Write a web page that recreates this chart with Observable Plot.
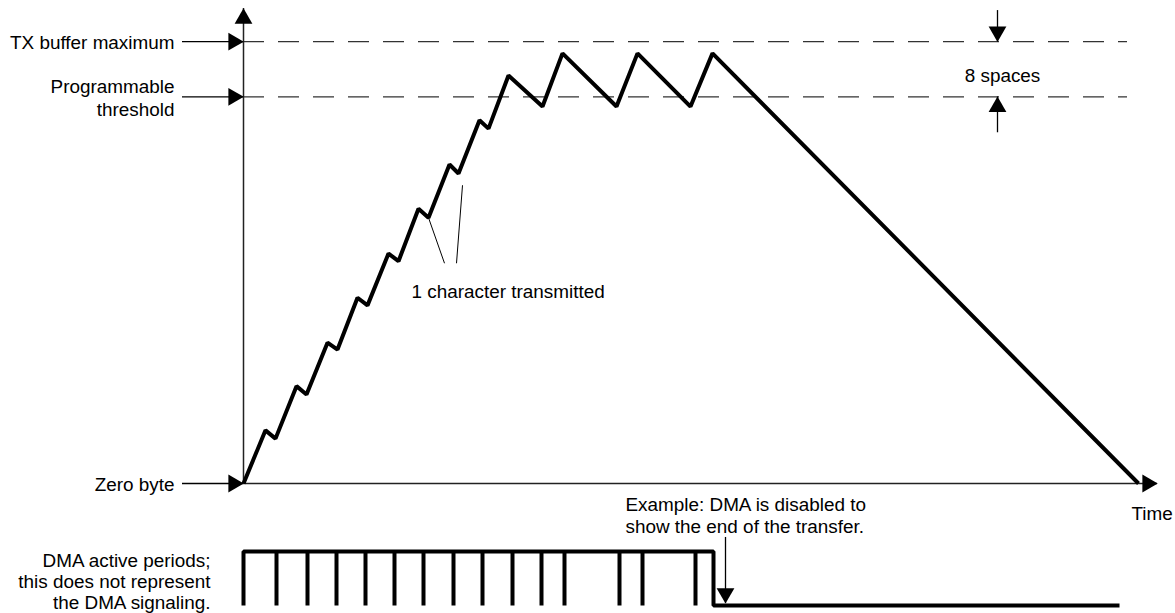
<!DOCTYPE html>
<html>
<head>
<meta charset="utf-8">
<script src="https://cdn.jsdelivr.net/npm/d3@7"></script>
<script src="https://cdn.jsdelivr.net/npm/@observablehq/plot@0.6"></script>
<style>
  html, body { margin: 0; padding: 0; background: #fff; color: #000; }
  #chart { width: 1175px; }
  #chart svg { display: block; }
</style>
</head>
<body>
<div id="chart"></div>
<script>
// ---- Data ----
// TX buffer fill level (bytes) over time (arbitrary time units)
const fifoTime  = [0, 22, 32, 53, 63, 84, 94, 114, 124, 145, 155, 175, 185, 206, 215, 236, 245, 265, 299, 319, 373, 394, 447, 469, 895];
const fifoBytes = [0, 7.7, 6.5, 14.1, 12.9, 20.4, 19.4, 26.9, 25.8, 33.3, 32.2, 39.8, 38.5, 46.2, 44.9, 52.6, 51.4, 59.1, 54.6, 62.3, 54.6, 62.3, 54.6, 62.3, 0];

// Reference levels on the vertical axis
const levelValues = [64, 56, 0];
const levelLabels = ["TX buffer maximum", "Programmable\nthreshold", "Zero byte"];
const guideLevels = [64, 56];
const guideEnd = 884;

// DMA active periods: short gaps, then disabled
const dmaDipTimes = [33, 64, 93, 122, 151, 180, 210, 239, 269, 298, 321, 376, 399, 452];
const dmaDisableTime = 470;
const dmaEndTime = 876;

// Axis extents
const timeMax = 914;
const bytesMax = 68.8;

// Annotations
const charLeaderX1 = [185, 219];
const charLeaderY1 = [38.5, 43.2];
const charLeaderX2 = [201, 213];
const charLeaderY2 = [31.9, 31.9];
const charLabel = "1 character transmitted";
const charLabelTime = 168, charLabelBytes = 27.8;

const spacesTime = 754;
const spacesLabel = "8 spaces";
const spacesShaftFrom = [68.5, 50.8];
const spacesShaftTo = [64, 56];

const exampleTime = 382;
const exampleLabel = "Example: DMA is disabled to\nshow the end of the transfer.";
const exampleArrowTime = 482;
const exampleArrowTop = 1.26, exampleArrowTip = 0.04;

const dmaLabel = "DMA active periods;\nthis does not represent\nthe DMA signaling.";
const timeLabel = "Time";

// ---- Tables built from the arrays ----
const fifo = fifoTime.map((t, i) => ({t, b: fifoBytes[i]}));
const levels = levelValues.map((v, i) => ({v, label: levelLabels[i]}));
const dma = [{t: 0, a: 0}, {t: 0, a: 1}];
for (const d of dmaDipTimes) dma.push({t: d, a: 1}, {t: d, a: 0}, {t: d, a: 1});
dma.push({t: dmaDisableTime, a: 1}, {t: dmaDisableTime, a: 0}, {t: dmaEndTime, a: 0});
const leaders = charLeaderX1.map((x1, i) => ({x1, y1: charLeaderY1[i], x2: charLeaderX2[i], y2: charLeaderY2[i]}));
const spaceShafts = spacesShaftFrom.map((f, i) => ({f, to: spacesShaftTo[i]}));

const FONT = "'Liberation Sans', Arial, Helvetica, sans-serif";
const FS = "18.9px";
const headR = 6.6;

const common = {
  width: 1175,
  marginLeft: 243,
  marginRight: 18,
  style: {fontFamily: FONT, fontSize: FS, background: "transparent", color: "#000", overflow: "visible"}
};

const bufferPlot = Plot.plot({
  ...common,
  height: 530,
  marginTop: 8,
  marginBottom: 47,
  x: {domain: [0, timeMax], axis: null},
  y: {domain: [0, bytesMax]},
  marks: [
    // level labels with leader ticks
    Plot.axisY(levelValues, {
      anchor: "left",
      tickSize: 61,
      tickPadding: 8,
      tickFormat: (d) => levelLabels[levelValues.indexOf(d)],
      label: null,
      lineHeight: 1.22,
      strokeWidth: 1.4,
      fontSize: FS
    }),
    // dashed guides
    Plot.ruleY(guideLevels, {x1: 0, x2: guideEnd, stroke: "#333", strokeWidth: 1.3, strokeDasharray: "21,14"}),
    // axes
    Plot.ruleX([0], {y1: 0, y2: bytesMax, stroke: "#222", strokeWidth: 1.5}),
    Plot.ruleY([0], {x1: 0, x2: timeMax, stroke: "#222", strokeWidth: 1.5}),
    Plot.dot([bytesMax], {x: () => 0, y: (d) => d, symbol: "triangle", r: headR, fill: "#000", stroke: "none", dy: 10}),
    Plot.dot([timeMax], {x: (d) => d, y: () => 0, symbol: "triangle", r: headR, fill: "#000", stroke: "none", rotate: 90, dx: -10}),
    Plot.dot(levels, {x: () => 0, y: "v", symbol: "triangle", r: headR, fill: "#000", stroke: "none", rotate: 90, dx: -10}),
    // buffer level sawtooth
    Plot.line(fifo, {x: "t", y: "b", stroke: "#000", strokeWidth: 4, strokeLinejoin: "miter", strokeLinecap: "butt"}),
    // 1 character transmitted
    Plot.link(leaders, {x1: "x1", y1: "y1", x2: "x2", y2: "y2", stroke: "#000", strokeWidth: 1}),
    Plot.text([charLabel], {x: () => charLabelTime, y: () => charLabelBytes, text: (d) => d, textAnchor: "start", fill: "#000"}),
    // 8 spaces
    Plot.ruleX(spaceShafts, {x: () => spacesTime, y1: "f", y2: "to", stroke: "#000", strokeWidth: 1.3}),
    Plot.dot([64], {x: () => spacesTime, y: (d) => d, symbol: "triangle", r: headR, fill: "#000", stroke: "none", rotate: 180, dy: -10}),
    Plot.dot([56], {x: () => spacesTime, y: (d) => d, symbol: "triangle", r: headR, fill: "#000", stroke: "none", dy: 10}),
    Plot.text([spacesLabel], {x: () => spacesTime + 5, y: () => 59.1, text: (d) => d, fill: "#000"}),
    // Time label
    Plot.text([timeLabel], {x: () => timeMax, y: () => 0, text: (d) => d, textAnchor: "start", dx: -26, dy: 30, fill: "#000"}),
    // Example annotation text
    Plot.text([exampleLabel], {x: () => exampleTime, y: () => 0, text: (d) => d, textAnchor: "start", dy: 31, lineHeight: 1.17, fill: "#000"})
  ]
});

const dmaPlot = Plot.plot({
  ...common,
  height: 83,
  marginTop: 21,
  marginBottom: 8,
  x: {domain: [0, timeMax], axis: null},
  y: {domain: [0, 1], axis: null},
  marks: [
    Plot.line(dma, {x: "t", y: "a", stroke: "#000", strokeWidth: 4, strokeLinejoin: "miter", strokeLinecap: "butt"}),
    Plot.ruleX([exampleArrowTime], {y1: exampleArrowTop, y2: exampleArrowTip, stroke: "#000", strokeWidth: 1.3}),
    Plot.dot([exampleArrowTime], {x: (d) => d, y: () => exampleArrowTip, symbol: "triangle", r: headR, fill: "#000", stroke: "none", rotate: 180, dy: -10}),
    Plot.text([dmaLabel], {x: () => 0, y: () => 0.5, text: (d) => d, textAnchor: "end", dx: -33, dy: 3, lineHeight: 1.1, fill: "#000"})
  ]
});

document.getElementById("chart").append(bufferPlot, dmaPlot);
</script>
</body>
</html>
